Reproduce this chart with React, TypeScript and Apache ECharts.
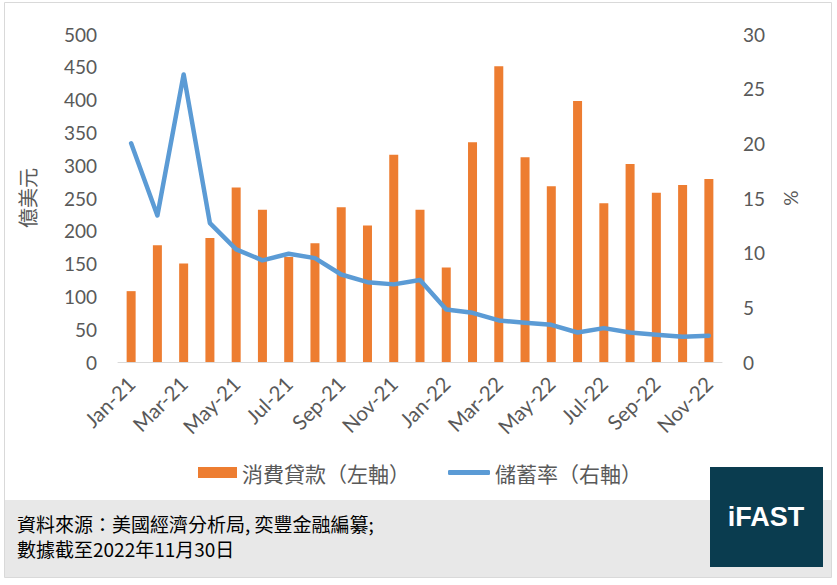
import React, { useEffect, useRef } from 'react';
import * as echarts from 'echarts';

const months: string[] = [
  'Jan-21', 'Feb-21', 'Mar-21', 'Apr-21', 'May-21', 'Jun-21', 'Jul-21', 'Aug-21',
  'Sep-21', 'Oct-21', 'Nov-21', 'Dec-21', 'Jan-22', 'Feb-22', 'Mar-22', 'Apr-22',
  'May-22', 'Jun-22', 'Jul-22', 'Aug-22', 'Sep-22', 'Oct-22', 'Nov-22',
];
// 消費貸款 (億美元, left axis)
const consumerLoans: number[] = [
  108, 178, 150, 189, 266, 232, 160, 181, 236, 208, 316, 232,
  144, 335, 451, 312, 268, 398, 242, 302, 258, 270, 279,
];
// 儲蓄率 (%, right axis)
const savingRate: number[] = [
  20.0, 13.4, 26.3, 12.7, 10.3, 9.3, 9.9, 9.5, 8.0, 7.3, 7.1, 7.5,
  4.8, 4.5, 3.8, 3.6, 3.4, 2.7, 3.1, 2.7, 2.5, 2.3, 2.4,
];
const seriesNames: string[] = ['消費貸款（左軸）', '儲蓄率（右軸）'];
const footerLines: string[] = ['資料來源：美國經濟分析局, 奕豐金融編纂;', '數據截至2022年11月30日'];

const ORANGE = '#ED7D31';
const BLUE = '#5B9BD5';
const GREY_TEXT = '#595959';
const FONT = "Lato, 'Noto Sans CJK TC', sans-serif";
const CJK = "'Noto Sans CJK TC', sans-serif";

const App: React.FC = () => {
  const chartRef = useRef<HTMLDivElement>(null);

  useEffect(() => {
    if (!chartRef.current) return;
    const chart = echarts.init(chartRef.current, undefined, { renderer: 'svg' });

    chart.setOption({
      animation: false,
      backgroundColor: '#ffffff',
      textStyle: { fontFamily: FONT },
      grid: { left: 118, right: 115, top: 34, bottom: 223 },
      legend: [
        {
          data: [{ name: seriesNames[0], icon: 'rect' }],
          left: 193,
          top: 457,
          itemWidth: 39,
          itemHeight: 11,
          textStyle: { fontSize: 21, color: GREY_TEXT, fontFamily: CJK },
        },
        {
          data: [{ name: seriesNames[1], icon: 'roundRect' }],
          left: 443,
          top: 457,
          itemWidth: 42,
          itemHeight: 5,
          textStyle: { fontSize: 21, color: GREY_TEXT, fontFamily: CJK },
        },
      ],
      xAxis: {
        type: 'category',
        data: months,
        boundaryGap: true,
        axisLine: { lineStyle: { color: '#d9d9d9', width: 1 } },
        axisTick: { interval: 1, length: 5, lineStyle: { color: '#d9d9d9' } },
        axisLabel: { interval: 1, rotate: 45, fontSize: 20.5, color: GREY_TEXT, margin: 18 },
        splitLine: { show: false },
      },
      yAxis: [
        {
          type: 'value',
          min: 0,
          max: 500,
          interval: 50,
          name: '億美元',
          nameLocation: 'middle',
          nameRotate: 90,
          nameGap: 81,
          nameTextStyle: { fontSize: 20, color: GREY_TEXT, fontFamily: CJK },
          axisLine: { show: false },
          axisTick: { show: false },
          splitLine: { show: false },
          axisLabel: { fontSize: 19, color: GREY_TEXT, margin: 21 },
        },
        {
          type: 'value',
          min: 0,
          max: 30,
          interval: 5,
          name: '%',
          nameLocation: 'middle',
          nameRotate: -90,
          nameGap: 60,
          nameTextStyle: { fontSize: 19, color: GREY_TEXT },
          axisLine: { show: false },
          axisTick: { show: false },
          splitLine: { show: false },
          axisLabel: { fontSize: 19, color: GREY_TEXT, margin: 21 },
        },
      ],
      series: [
        {
          name: seriesNames[0],
          type: 'bar',
          yAxisIndex: 0,
          data: consumerLoans,
          barWidth: 9,
          itemStyle: { color: ORANGE },
        },
        {
          name: seriesNames[1],
          type: 'line',
          yAxisIndex: 1,
          data: savingRate,
          symbol: 'none',
          lineStyle: { color: BLUE, width: 4.5, join: 'round', cap: 'round' },
          itemStyle: { color: BLUE },
        },
      ],
      graphic: [
        {
          type: 'rect',
          z: -10,
          shape: { x: 4.5, y: 2.5, width: 827, height: 575 },
          style: { fill: 'none', stroke: '#d9d9d9', lineWidth: 1 },
        },
        {
          type: 'rect',
          z: -5,
          shape: { x: 5, y: 500, width: 826, height: 77 },
          style: { fill: '#e8e8e8' },
        },
        {
          type: 'text',
          x: 17,
          y: 523,
          style: {
            text: footerLines[0],
            fontSize: 19,
            lineHeight: 21,
            fontFamily: CJK,
            fill: '#000000',
            verticalAlign: 'middle',
          },
        },
        {
          type: 'text',
          x: 17,
          y: 548,
          style: {
            text: footerLines[1],
            fontSize: 19,
            lineHeight: 21,
            fontFamily: CJK,
            fill: '#000000',
            verticalAlign: 'middle',
          },
        },
        {
          type: 'rect',
          shape: { x: 710, y: 467, width: 113, height: 100 },
          style: { fill: '#0a3c4f' },
        },
        {
          type: 'text',
          x: 766,
          y: 517,
          style: {
            text: 'iFAST',
            fontSize: 27,
            fontWeight: 'bold',
            fontFamily: "'Liberation Sans', Arial, sans-serif",
            fill: '#ffffff',
            align: 'center',
            verticalAlign: 'middle',
          },
        },
      ],
    });

    return () => {
      chart.dispose();
    };
  }, []);

  return (
    <div
      ref={chartRef}
      style={{ position: 'absolute', left: 0, top: 0, width: '837px', height: '585px' }}
    />
  );
};

export default App;
